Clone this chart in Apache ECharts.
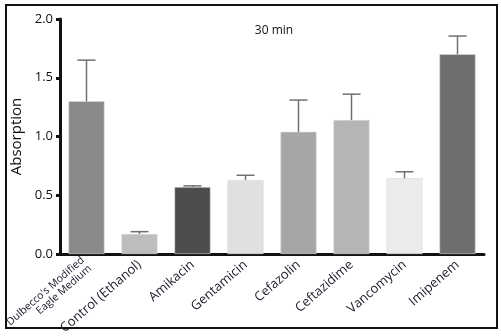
<!DOCTYPE html>
<html>
<head>
<meta charset="utf-8">
<script src="https://cdn.jsdelivr.net/npm/echarts@6/dist/echarts.min.js"></script>
<style>
  html, body { margin: 0; padding: 0; background: #fff; }
  #chart { width: 501px; height: 336px; }
</style>
</head>
<body>
<div id="chart"></div>
<script>
const categories = [
  "Dulbecco's Modified\nEagle Medium",
  "Control (Ethanol)",
  "Amikacin",
  "Gentamicin",
  "Cefazolin",
  "Ceftazidime",
  "Vancomycin",
  "Imipenem"
];
const means = [1.30, 0.17, 0.57, 0.63, 1.04, 1.14, 0.645, 1.70];
const errTops = [1.65, 0.19, 0.58, 0.67, 1.31, 1.36, 0.70, 1.855];
const barColors = ["#8a8a8a", "#bdbdbd", "#4d4d4d", "#e0e0e0", "#a6a6a6", "#b5b5b5", "#ebebeb", "#6e6e6e"];
const yTicks = ["0.0", "0.5", "1.0", "1.5", "2.0"];

const font = "'Open Sans', 'Noto Sans', sans-serif";
const chart = echarts.init(document.getElementById("chart"));

chart.setOption({
  animation: false,
  backgroundColor: "#fff",
  textStyle: { fontFamily: font },
  // 外框
  graphic: [{
    type: "rect",
    shape: { x: 6, y: 5, width: 491, height: 323 },
    style: { fill: "none", stroke: "#111", lineWidth: 2 },
    silent: true
  }],
  title: {
    text: "30 min",
    left: 269,
    top: 20,
    textAlign: "center",
    textStyle: { fontSize: 12, fontWeight: "normal", color: "#111", fontFamily: font }
  },
  grid: { left: 60, right: 17, top: 19, bottom: 82, outerBoundsMode: "none", containLabel: false },
  xAxis: {
    type: "category",
    data: categories.map((c, i) => i === 0
      ? { value: c, textStyle: { fontSize: 10.5, lineHeight: 11 } }
      : c),
    axisLine: { lineStyle: { color: "#111", width: 3 } },
    axisTick: { alignWithLabel: true, length: 5, lineStyle: { color: "#111", width: 3 } },
    axisLabel: {
      interval: 0,
      rotate: 41,
      margin: 9,
      fontSize: 13,
      color: "#1a1a2a",
      fontFamily: font,
      align: "right",
      hideOverlap: false
    }
  },
  yAxis: {
    type: "value",
    min: 0,
    max: 2,
    interval: 0.5,
    name: "Absorption",
    nameLocation: "middle",
    nameGap: 36,
    nameRotate: 90,
    nameTextStyle: { fontSize: 15, color: "#111", fontFamily: font },
    splitLine: { show: false },
    axisLine: { show: true, lineStyle: { color: "#111", width: 3 } },
    axisTick: { show: true, length: 4, lineStyle: { color: "#111", width: 3 } },
    axisLabel: {
      fontSize: 13,
      color: "#111",
      margin: 7,
      fontFamily: font,
      formatter: (v) => yTicks[Math.round(v / 0.5)]
    }
  },
  series: [
    {
      type: "bar",
      barWidth: "68%",
      data: means.map((v, i) => ({
        value: v,
        itemStyle: { color: barColors[i], borderColor: "#d8d8d8", borderWidth: 0.6 }
      }))
    },
    {
      // 误差线（仅上半部分）
      type: "custom",
      data: means.map((v, i) => [i, v, errTops[i]]),
      z: 3,
      renderItem: function (params, api) {
        const base = api.coord([api.value(0), api.value(1)]);
        const top = api.coord([api.value(0), api.value(2)]);
        const half = 9;
        const style = { stroke: "#707070", lineWidth: 1.5 };
        return {
          type: "group",
          children: [
            { type: "line", shape: { x1: base[0], y1: base[1], x2: top[0], y2: top[1] }, style },
            { type: "line", shape: { x1: top[0] - half, y1: top[1], x2: top[0] + half, y2: top[1] }, style }
          ]
        };
      }
    }
  ]
});
</script>
</body>
</html>
